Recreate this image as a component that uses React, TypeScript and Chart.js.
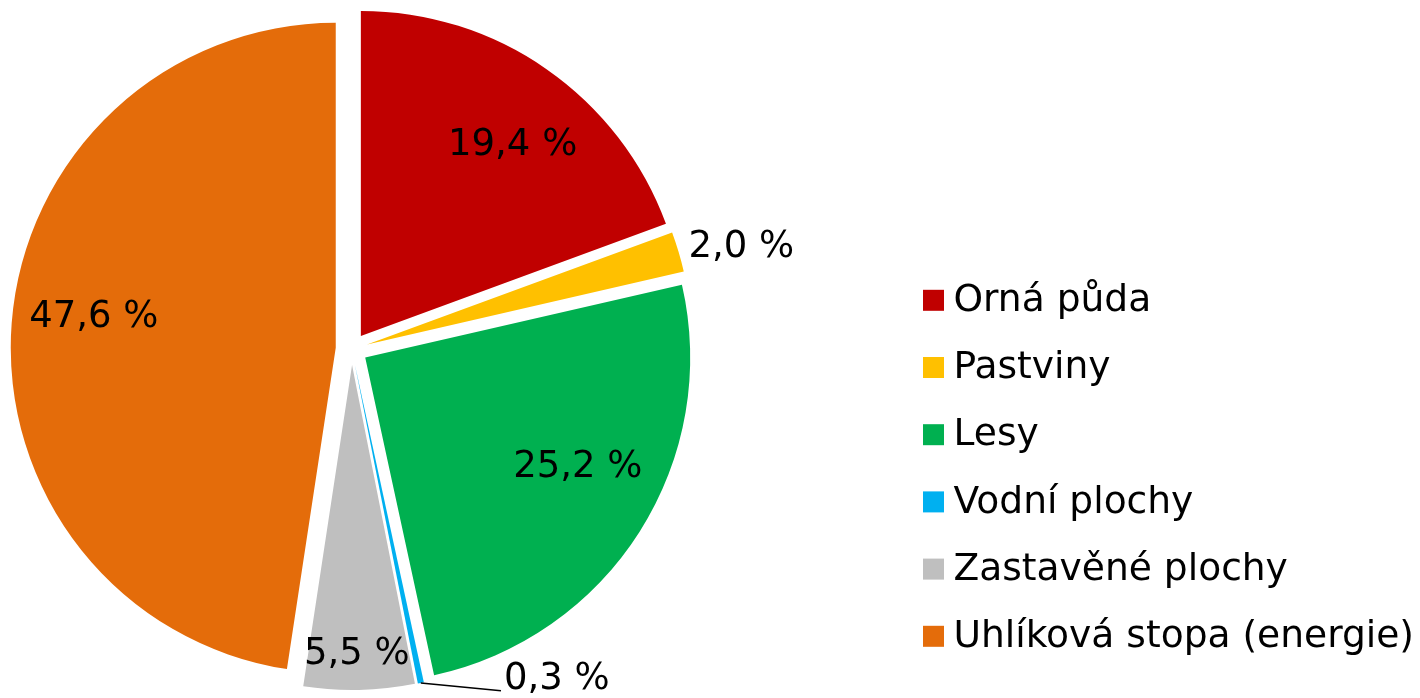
import React, { useEffect, useRef } from "react";
import { Chart, registerables } from "chart.js";

Chart.register(...registerables);

// ---- data ----
const categories = [
  "Orná půda",
  "Pastviny",
  "Lesy",
  "Vodní plochy",
  "Zastavěné plochy",
  "Uhlíková stopa (energie)",
];
const shares = [19.4, 2.0, 25.2, 0.3, 5.5, 47.6];
const colors = ["#C00000", "#FFC000", "#00B050", "#00B0F0", "#BFBFBF", "#E46C0A"];

// ---- label placement (relative to each slice) ----
const labelRadius = [0.75, 1.19, 0.737, 1.15, 0.89, 0.75];
const labelAngleShift = [3.6, 2.0, -5.0, -21.0, 0.3, 2.8];
const labelLeader = [false, false, false, true, false, false];

const FONT = '"DejaVu Sans", Verdana, sans-serif';
const FONT_SIZE = 37;
const LEGEND_FONT_SIZE = 37.6;
const EXPLODE = 16; // px each slice is pulled out along its mid angle
const RADIUS = 325;

const fmt = (v: number) => v.toFixed(1).replace(".", ",") + " %";

// pulls every slice outward (Excel-like point explosion) without changing its radius
const explode = {
  id: "explode",
  afterDatasetUpdate(chart: any, args: any) {
    const meta = chart.getDatasetMeta(args.index);
    meta.data.forEach((arc: any) => {
      const mid = (arc.startAngle + arc.endAngle) / 2;
      arc.x += Math.cos(mid) * EXPLODE;
      arc.y += Math.sin(mid) * EXPLODE;
    });
  },
};

const sliceLabels = {
  id: "sliceLabels",
  afterDatasetsDraw(chart: any) {
    const meta = chart.getDatasetMeta(0);
    const ctx = chart.ctx as CanvasRenderingContext2D;
    ctx.save();
    ctx.font = `${FONT_SIZE}px ${FONT}`;
    ctx.fillStyle = "#000";
    ctx.textAlign = "center";
    ctx.textBaseline = "middle";
    meta.data.forEach((arc: any, i: number) => {
      const p = arc.getProps(["x", "y", "startAngle", "endAngle", "outerRadius"], true);
      const mid = (p.startAngle + p.endAngle) / 2;
      const cx = p.x;
      const cy = p.y;
      const a = mid + (labelAngleShift[i] * Math.PI) / 180;
      const r = p.outerRadius * labelRadius[i];
      const lx = cx + Math.cos(a) * r;
      const ly = cy + Math.sin(a) * r;
      const text = fmt(shares[i]);
      if (labelLeader[i]) {
        const w = ctx.measureText(text).width;
        const sx = cx + Math.cos(mid) * p.outerRadius;
        const sy = cy + Math.sin(mid) * p.outerRadius;
        ctx.beginPath();
        ctx.strokeStyle = "#000";
        ctx.lineWidth = 1.5;
        ctx.moveTo(sx, sy);
        ctx.lineTo(lx - w / 2 - 3, ly + 11.5);
        ctx.stroke();
      }
      ctx.fillText(text, lx, ly);
    });
    ctx.restore();
  },
};

const sideLegend = {
  id: "sideLegend",
  afterDraw(chart: any) {
    const ctx = chart.ctx as CanvasRenderingContext2D;
    const labels: string[] = chart.data.labels;
    const bg: string[] = chart.data.datasets[0].backgroundColor;
    const x0 = 923;
    const box = 21;
    const y0 = 300.3;
    const step = 67.2;
    ctx.save();
    ctx.font = `${LEGEND_FONT_SIZE}px ${FONT}`;
    ctx.textAlign = "left";
    ctx.textBaseline = "middle";
    labels.forEach((lab, i) => {
      const yc = y0 + i * step;
      ctx.fillStyle = bg[i];
      ctx.fillRect(x0, yc - box / 2, box, box);
      ctx.fillStyle = "#000";
      ctx.fillText(lab, x0 + box + 9.5, yc + 1);
    });
    ctx.restore();
  },
};

export default function App() {
  const ref = useRef<HTMLCanvasElement | null>(null);
  useEffect(() => {
    if (!ref.current) return;
    const chart = new Chart(ref.current, {
      type: "pie",
      data: {
        labels: categories,
        datasets: [
          {
            data: shares,
            backgroundColor: colors,
            borderWidth: 0,
            borderColor: "#ffffff",
          } as any,
        ],
      },
      options: {
        animation: false,
        responsive: true,
        maintainAspectRatio: false,
        radius: RADIUS,
        layout: { padding: { left: 0, top: 0, bottom: 0, right: 716.6 } },
        plugins: {
          legend: { display: false },
          tooltip: { enabled: false },
        },
      } as any,
      plugins: [explode, sliceLabels, sideLegend],
    });
    return () => chart.destroy();
  }, []);
  return (
    <div style={{ position: "absolute", left: 0, top: 0, width: 1420, height: 698, background: "#fff" }}>
      <canvas ref={ref} />
    </div>
  );
}
